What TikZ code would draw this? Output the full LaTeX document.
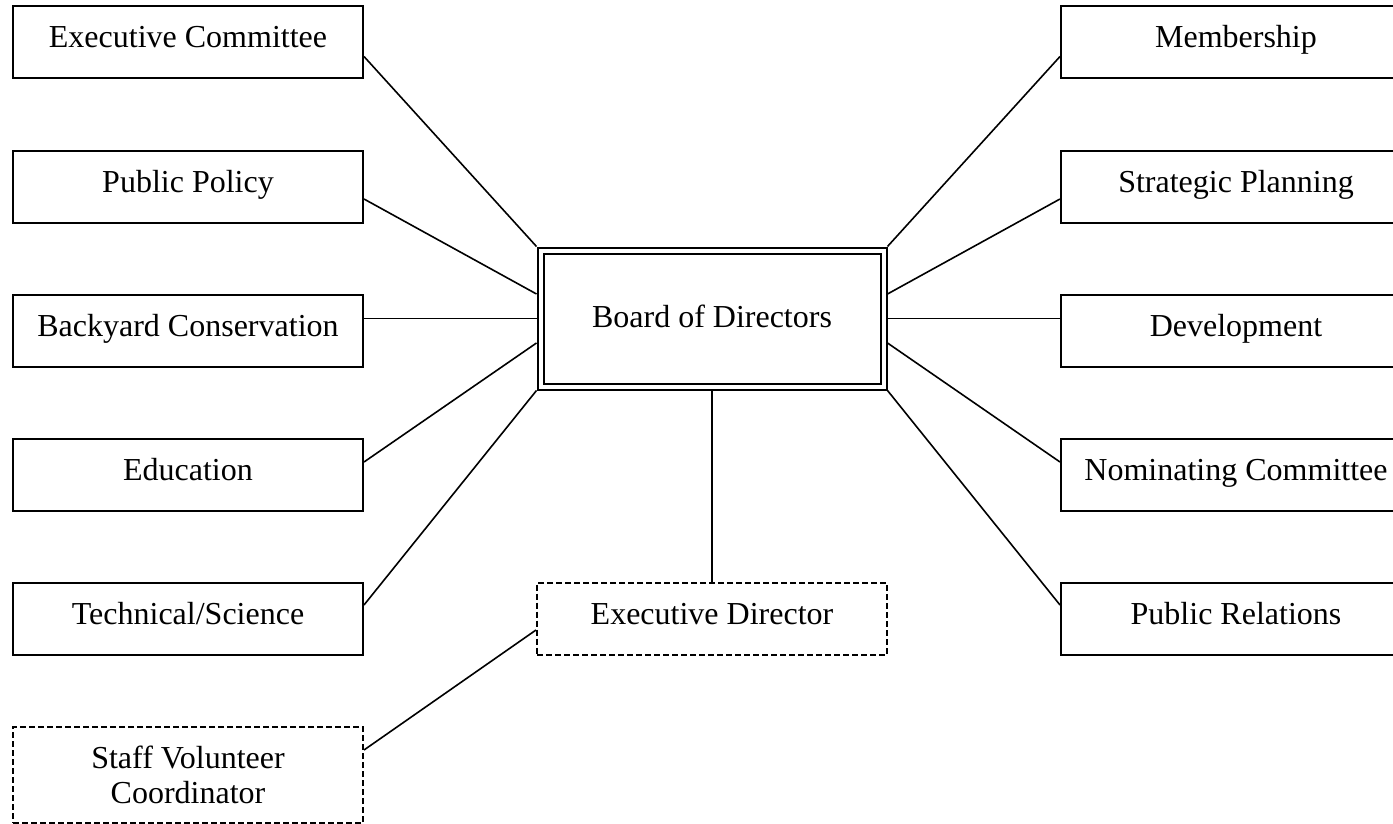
\documentclass[tikz,border=0pt]{standalone}
\usepackage{fontspec}
\setmainfont{Liberation Serif}
\usetikzlibrary{calc}

\begin{document}
\begin{tikzpicture}[x=0.5pt, y=-0.5pt,
    every node/.style={font=\fontsize{16}{17.5}\selectfont},
    boxbase/.style={draw, line width=1pt, minimum width=175pt, inner sep=0pt},
    unit/.style={boxbase, minimum height=36pt, text height=11pt, text depth=5.5pt},
    staffbox/.style={boxbase, dash pattern=on 3pt off 1.5pt},
    link/.style={line width=0.8pt}]
    \useasboundingbox (0,0) rectangle (1393,824);

    % Board
    \node[draw, double, line width=1pt, double distance=2pt, minimum width=171.5pt,
          minimum height=68pt, inner sep=0pt, outer sep=2pt,
          text height=11pt, text depth=2.5pt] (bod) at (712,318.5) {Board of Directors};

    % Left committees
    \node[unit] (ec) at (188,42.5) {Executive Committee};
    \node[unit] (pp) at (188,187) {Public Policy};
    \node[unit] (bc) at (188,331) {Backyard Conservation};
    \node[unit] (edu) at (188,474.5) {Education};
    \node[unit] (ts) at (188,619) {Technical/Science};

    % Right committees
    \node[unit] (mem) at (1236,42.5) {Membership};
    \node[unit] (sp) at (1236,187) {Strategic Planning};
    \node[unit] (dev) at (1236,331) {Development};
    \node[unit] (nom) at (1236,474.5) {Nominating Committee};
    \node[unit] (pr) at (1236,619) {Public Relations};

    % Staff
    \node[staffbox, minimum height=36pt, text height=11pt, text depth=5.5pt] (ed) at (712,618.5) {Executive Director};
    \node[staffbox, minimum height=48pt, align=center] (svc) at (188,775) {Staff Volunteer\\Coordinator};

    % Links to the left
    \draw[link] ($(ec.east)+(0,14)$) -- (bod.north west);
    \draw[link] ($(pp.east)+(0,12)$) -- ($(bod.west)+(0,-24.5)$);
    \draw[link] (bod.west -| bc.east) -- (bod.west);
    \draw[link] ($(edu.east)+(0,-12.5)$) -- ($(bod.west)+(0,24.5)$);
    \draw[link] ($(ts.east)+(0,-14)$) -- (bod.south west);

    % Links to the right
    \draw[link] ($(mem.west)+(0,14)$) -- (bod.north east);
    \draw[link] ($(sp.west)+(0,12)$) -- ($(bod.east)+(0,-24.5)$);
    \draw[link] (bod.east -| dev.west) -- (bod.east);
    \draw[link] ($(nom.west)+(0,-12.5)$) -- ($(bod.east)+(0,24.5)$);
    \draw[link] ($(pr.west)+(0,-14)$) -- (bod.south east);

    % Staff links
    \draw[link] (bod.south) -- (ed.north);
    \draw[link] ($(ed.west)+(0,11.5)$) -- ($(svc.east)+(0,-25)$);
\end{tikzpicture}
\end{document}
